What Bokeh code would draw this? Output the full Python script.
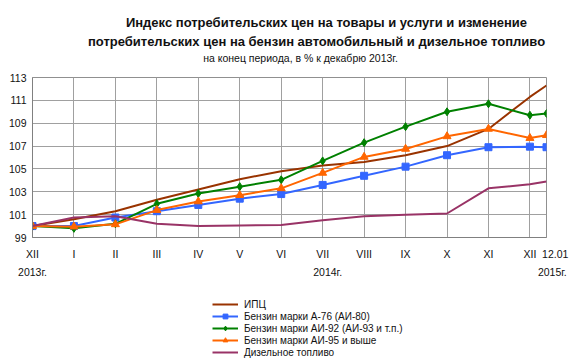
from bokeh.plotting import figure
from bokeh.layouts import column
from bokeh.models import FixedTicker, Label, Legend, LegendItem, Range1d, LinearAxis
from bokeh.embed import file_html
from bokeh.resources import INLINE

# ---- data ----
months = ["XII", "I", "II", "III", "IV", "V", "VI", "VII", "VIII", "IX", "X", "XI", "XII"]
x_pos = [0, 1, 2, 3, 4, 5, 6, 7, 8, 9, 10, 11, 12, 12.4]   # last point: 12.01.2015
end_label = "12.01"
years = ["2013г.", "2014г.", "2015г."]
year_pos = [0, 7.12, 12.4]
y_ticks = [99, 101, 103, 105, 107, 109, 111, 113]

cpi = [100.0, 100.6, 101.3, 102.3, 103.2, 104.1, 104.8, 105.3, 105.6, 106.2, 107.0, 108.5, 111.3, 112.3]
a76 = [100.0, 100.0, 100.75, 101.3, 101.85, 102.4, 102.8, 103.6, 104.4, 105.2, 106.2, 106.9, 106.95, 106.9]
ai92 = [100.0, 99.8, 100.2, 101.95, 102.85, 103.45, 104.05, 105.7, 107.3, 108.7, 110.0, 110.7, 109.7, 109.85]
ai95 = [100.0, 99.95, 100.15, 101.4, 102.15, 102.7, 103.3, 104.65, 106.05, 106.75, 107.85, 108.5, 107.7, 107.95]
diesel = [100.0, 100.75, 100.85, 100.2, 100.0, 100.05, 100.1, 100.5, 100.85, 101.0, 101.1, 103.3, 103.65, 103.9]

names = ["ИПЦ", "Бензин марки А-76 (АИ-80)", "Бензин марки АИ-92 (АИ-93 и т.п.)",
         "Бензин марки АИ-95 и выше", "Дизельное топливо"]
colors = ["#993300", "#3366FF", "#008000", "#FF6600", "#993366"]
markers = [None, "square", "diamond", "triangle", None]
msizes = [0, 7, 8, 8, 0]
series = [cpi, a76, ai92, ai95, diesel]

X0, X1, Y0, Y1 = 0, 12.4, 99, 113
FW, FH = 514, 160
BL, BR, BT, BB = 32, 28, 77, 53
LEG_H = 73
FONT = "Liberation Sans"
PAD = "\u00a0" * 6

p = figure(frame_width=FW, frame_height=FH, output_backend="svg", toolbar_location=None,
           x_range=Range1d(X0, X1), y_range=Range1d(Y0, Y1),
           min_border_left=BL, min_border_right=BR, min_border_top=BT, min_border_bottom=BB,
           background_fill_color="white", border_fill_color="white")
p.outline_line_color = "#909090"

month_ticks = list(range(13))
p.xaxis.ticker = FixedTicker(ticks=month_ticks + [X1])
ov = {i: m for i, m in enumerate(months)}
ov[X1] = PAD + end_label
p.xaxis.major_label_overrides = ov
p.yaxis.ticker = FixedTicker(ticks=y_ticks)

year_axis = LinearAxis(ticker=FixedTicker(ticks=year_pos),
                       major_label_overrides={year_pos[0]: years[0], year_pos[1]: years[1],
                                              year_pos[2]: "\u00a0" * 4 + years[2]})
p.add_layout(year_axis, "below")

for ax in (p.xaxis[0], p.yaxis[0], year_axis):
    ax.axis_line_color = "#808080"
    ax.major_tick_line_color = None
    ax.minor_tick_line_color = None
    ax.major_tick_out = 0
    ax.major_tick_in = 0
    ax.major_label_text_font = FONT
    ax.major_label_text_font_size = "10.5px"
    ax.major_label_text_color = "#111111"
year_axis.axis_line_color = None
p.xaxis[0].major_label_standoff = 10
year_axis.major_label_standoff = 3
p.yaxis.major_label_standoff = 6

p.xgrid.ticker = FixedTicker(ticks=month_ticks)
p.ygrid.ticker = FixedTicker(ticks=y_ticks)
p.xgrid.grid_line_color = "#A0A0A0"
p.ygrid.grid_line_color = "#A0A0A0"

for col, mk, ms, ys in zip(colors, markers, msizes, series):
    p.line(x_pos, ys, line_color=col, line_width=2)
    if mk is not None:
        p.scatter(x_pos, ys, marker=mk, size=ms, fill_color=col, line_color=col)


def xd(fx):
    return X0 + (fx - BL) * (X1 - X0) / FW


def yd(fy):
    return Y0 + (BT + FH - fy) * (Y1 - Y0) / FH


def lab(text, fx, fy, size, bold=False):
    p.add_layout(Label(x=xd(fx), y=yd(fy), text=text, text_align="center", text_baseline="middle",
                       text_font=FONT, text_font_size=size,
                       text_font_style="bold" if bold else "normal", text_color="#111111"), "above")


lab("Индекс потребительских цен на товары и услуги и изменение", 326, 22, "13px", True)
lab("потребительских цен на бензин автомобильный и дизельное топливо", 316, 41, "13px", True)
lab("на конец периода, в % к декабрю 2013г.", 300, 57, "10.5px")

# ---- legend strip below the chart: the same series drawn out of view, only their legend samples show ----
lf = figure(width=BL + FW + BR, height=LEG_H, output_backend="svg", toolbar_location=None,
            x_axis_type=None, y_axis_type=None, x_range=Range1d(-20, -19), y_range=Range1d(0, 1),
            min_border_left=0, min_border_right=0, min_border_top=0, min_border_bottom=0,
            background_fill_color="white", border_fill_color="white")
lf.outline_line_color = None
lf.grid.visible = False

items = []
for name, col, mk, ms, ys in zip(names, colors, markers, msizes, series):
    rs = [lf.line(x_pos, ys, line_color=col, line_width=2)]
    if mk is not None:
        rs.append(lf.scatter(x_pos, ys, marker=mk, size=ms, fill_color=col, line_color=col))
    items.append(LegendItem(label=name, renderers=rs))

legend = Legend(items=items, location=(180, 5), orientation="vertical",
                glyph_width=26, glyph_height=12, label_height=12, spacing=0,
                padding=0, margin=0, label_standoff=6,
                label_text_font=FONT, label_text_font_size="10px", label_text_color="#111111",
                border_line_color=None, background_fill_alpha=0)
lf.add_layout(legend, "center")

layout = column(p, lf, spacing=0)
open("out.html", "w").write(file_html(layout, INLINE))
